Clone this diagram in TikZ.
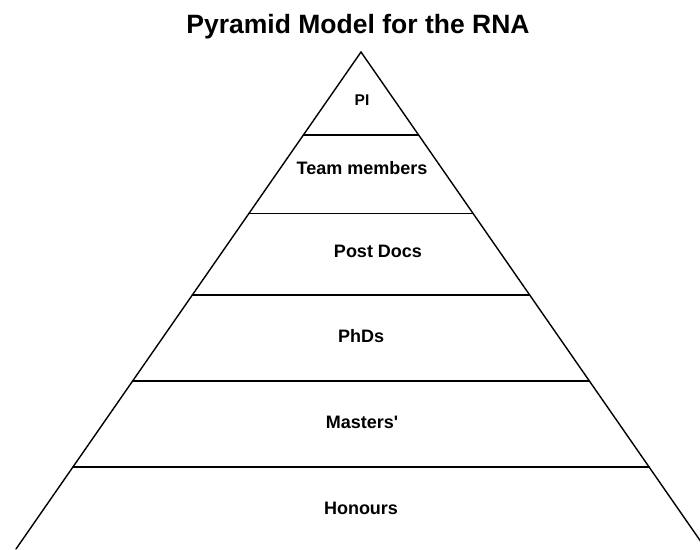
\documentclass[tikz,border=0pt]{standalone}
\usepackage{fontspec}
\setmainfont{Liberation Sans}
\usetikzlibrary{calc}

\tikzset{
  level/.style={font=\fontsize{18}{20}\selectfont\bfseries},
  edge/.style={draw,line width=1.4pt,line cap=round}
}

\begin{document}
\begin{tikzpicture}[x=1pt,y=-1pt]
\useasboundingbox (0,0) rectangle (700,549);
\clip (0,0) rectangle (700,549);

\node[font=\fontsize{26.5}{30}\selectfont\bfseries,anchor=base] (title) at (358,33) {Pyramid Model for the RNA};

% outline of the pyramid
\coordinate (top) at (361,52);
\coordinate (bl) at (16,549);
\coordinate (br) at (706,549);
\path[edge] (bl) -- (top) -- (br);

% dividing lines between the layers
\coordinate (l1) at ($(top)!0.167!(bl)$); \coordinate (r1) at ($(top)!0.167!(br)$);
\coordinate (l2) at ($(top)!0.325!(bl)$); \coordinate (r2) at ($(top)!0.325!(br)$);
\coordinate (l3) at ($(top)!0.489!(bl)$); \coordinate (r3) at ($(top)!0.489!(br)$);
\coordinate (l4) at ($(top)!0.662!(bl)$); \coordinate (r4) at ($(top)!0.662!(br)$);
\coordinate (l5) at ($(top)!0.835!(bl)$); \coordinate (r5) at ($(top)!0.835!(br)$);
\path[edge] (l1) -- (r1);
\path[edge] (l2) -- (r2);
\path[edge] (l3) -- (r3);
\path[edge] (l4) -- (r4);
\path[edge] (l5) -- (r5);

% layer names
\node[level,font=\fontsize{15.5}{18}\selectfont\bfseries] (pi) at (362,100) {PI};
\node[level] (team) at (362,168) {Team members};
\node[level] (postdocs) at (378,251) {Post Docs};
\node[level] (phds) at (361,336) {PhDs};
\node[level] (masters) at (362,422) {Masters\textquotesingle};
\node[level] (honours) at (361,508) {Honours};
\end{tikzpicture}
\end{document}
